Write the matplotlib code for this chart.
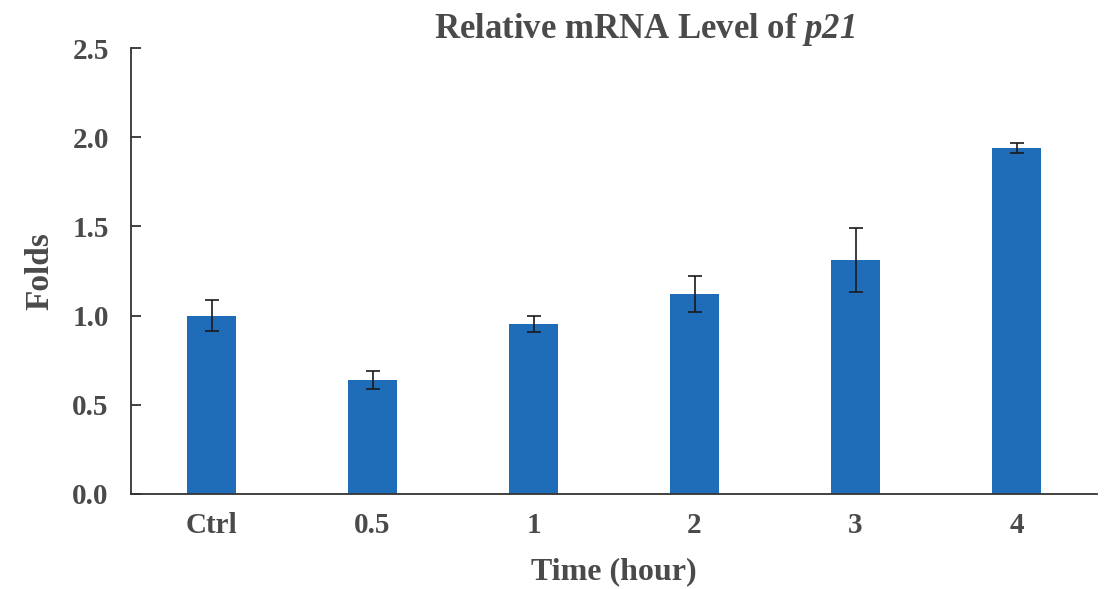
import numpy as np
import matplotlib.pyplot as plt

# Data
categories = ["Ctrl", "0.5", "1", "2", "3", "4"]
folds = [1.00, 0.64, 0.955, 1.12, 1.31, 1.94]
errors = [0.085, 0.05, 0.045, 0.10, 0.18, 0.03]

plt.rcParams['font.family'] = ['Liberation Serif', 'DejaVu Serif']
# mathtext is only used for the italic gene name in the title
plt.rcParams['mathtext.fontset'] = 'custom'
plt.rcParams['mathtext.rm'] = 'Liberation Serif:italic:bold'
plt.rcParams['mathtext.it'] = 'Liberation Serif:italic:bold'
text_color = "#4a4a4a"

fig = plt.figure(figsize=(11.04, 5.89), dpi=100)
ax = fig.add_axes([0.1187, 0.1613, 0.875, 0.7572])

x = np.arange(len(categories))
ax.bar(x, folds, width=0.31, color="#1f6cb8", zorder=2)
ax.errorbar(x, folds, yerr=errors, fmt="none", ecolor="#1a1a1a",
            elinewidth=1.2, capsize=5, capthick=1.2, zorder=3)

ax.set_xlim(-0.5, 5.5)
ax.set_ylim(0, 2.5)
ax.set_yticks(np.arange(0, 2.51, 0.5))
ax.set_yticklabels([f"{v:.1f}" for v in np.arange(0, 2.51, 0.5)])
ax.set_xticks(x)
ax.set_xticklabels(categories)

for s in ["top", "right"]:
    ax.spines[s].set_visible(False)
for s in ["left", "bottom"]:
    ax.spines[s].set_color("#333333")
    ax.spines[s].set_linewidth(1.3)

ax.tick_params(axis="y", direction="in", length=7, width=1.3, color="#333333",
               labelsize=21, labelcolor=text_color, pad=16)
ax.tick_params(axis="x", length=0, labelsize=21, labelcolor=text_color, pad=13)
for lab in ax.get_xticklabels() + ax.get_yticklabels():
    lab.set_fontweight("bold")

ax.set_xlabel("Time (hour)", fontsize=23, fontweight="bold", color=text_color, labelpad=13)
ax.set_ylabel("Folds", fontsize=24, fontweight="bold", color=text_color, labelpad=12)
ax.set_title(r"Relative mRNA Level of $p21$", fontsize=25,
             fontweight="bold", color=text_color, pad=0, x=0.532)

fig.savefig("out.png", dpi=100)
